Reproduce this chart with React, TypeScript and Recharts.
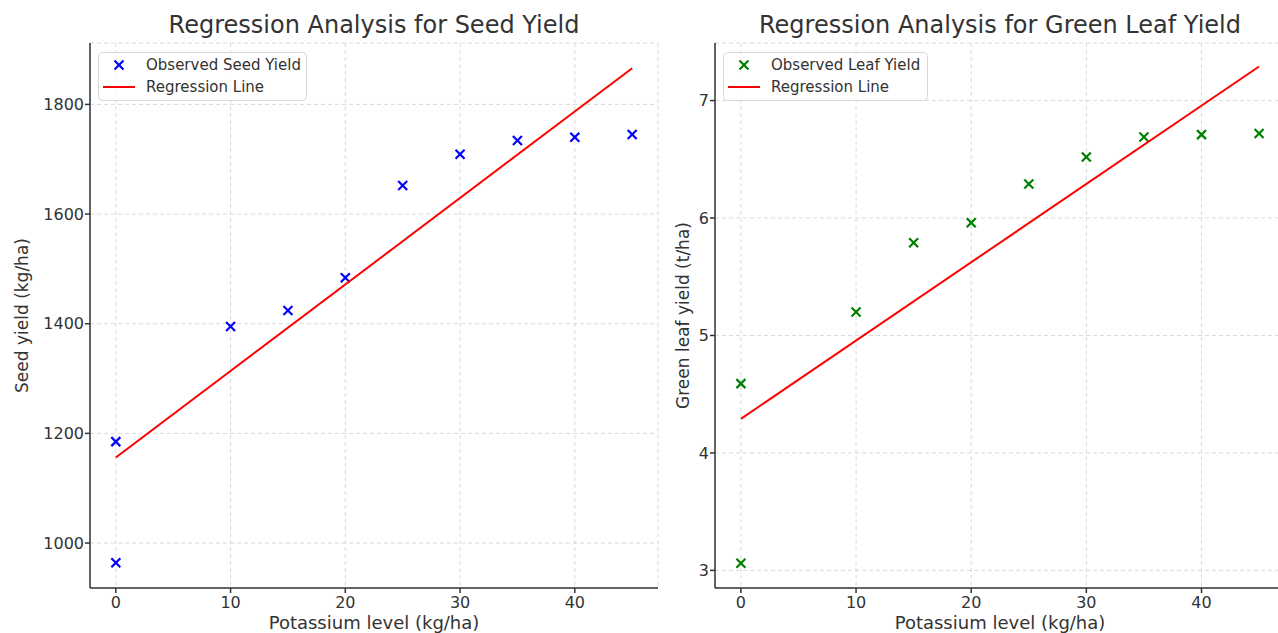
import { ScatterChart, Scatter, XAxis, YAxis, CartesianGrid } from "recharts";

// potassium levels (kg/ha), two control plots at 0
const potassium = [0, 0, 10, 15, 20, 25, 30, 35, 40, 45];
const seedYield = [964, 1185, 1395, 1424, 1484, 1652, 1709, 1734, 1740, 1745];
const leafYield = [3.06, 4.59, 5.2, 5.79, 5.96, 6.29, 6.52, 6.69, 6.71, 6.72];

// regression line end points
const fitX = [0, 45];
const seedFit = [1156, 1866];
const leafFit = [4.29, 7.29];

const xTicks = [0, 10, 20, 30, 40];
const seedTicks = [1000, 1200, 1400, 1600, 1800];
const leafTicks = [3, 4, 5, 6, 7];

const FONT = "'DejaVu Sans', sans-serif";
const TEXT = "#333333";

const toPoints = (xs: number[], ys: number[]) => xs.map((x, i) => ({ x, y: ys[i] }));

const Cross = (color: string) => (props: any) => {
  const { cx, cy } = props;
  const s = 4.5;
  return (
    <g stroke={color} strokeWidth={2.2}>
      <line x1={cx - s} y1={cy - s} x2={cx + s} y2={cy + s} />
      <line x1={cx - s} y1={cy + s} x2={cx + s} y2={cy - s} />
    </g>
  );
};

const Panel = ({
  title,
  yLabel,
  yLabelX,
  ys,
  fit,
  yDomain,
  yTicks,
  color,
  obsLabel,
  width,
  legendWidth,
}: any) => {
  const plotW = width - 92;
  return (
    <div style={{ position: "relative", width, height: 633 }}>
      <div
        style={{
          position: "absolute",
          left: 90,
          top: 13,
          width: plotW,
          textAlign: "center",
          fontSize: 24,
          lineHeight: "24px",
          color: TEXT,
          fontFamily: FONT,
          whiteSpace: "nowrap",
        }}
      >
        {title}
      </div>
      <ScatterChart width={width} height={633} margin={{ top: 43, right: 2, bottom: 0, left: 0 }}>
        <CartesianGrid stroke="#d0d0d0" strokeDasharray="4 3" strokeWidth={0.8} />
        <XAxis
          type="number"
          dataKey="x"
          domain={[-2.25, 47.25]}
          ticks={xTicks}
          allowDataOverflow
          height={45}
          tickSize={5}
          tickMargin={4}
          stroke={TEXT}
          strokeWidth={1.5}
          tick={{ fill: TEXT, fontSize: 16, fontFamily: FONT }}
          label={{
            content: (p: any) => {
              const vb = p.viewBox;
              return (
                <text
                  x={vb.x + vb.width / 2}
                  y={vb.y + 40.5}
                  textAnchor="middle"
                  fill={TEXT}
                  fontSize={18}
                  fontFamily={FONT}
                >
                  Potassium level (kg/ha)
                </text>
              );
            },
          }}
        />
        <YAxis
          type="number"
          dataKey="y"
          domain={yDomain}
          ticks={yTicks}
          allowDataOverflow
          width={90}
          tickSize={5}
          tickMargin={1}
          stroke={TEXT}
          strokeWidth={1.5}
          tick={{ fill: TEXT, fontSize: 16, fontFamily: FONT }}
          label={{
            content: (p: any) => {
              const vb = p.viewBox;
              const cy = vb.y + vb.height / 2;
              return (
                <text
                  x={yLabelX}
                  y={cy}
                  transform={`rotate(-90 ${yLabelX} ${cy})`}
                  textAnchor="middle"
                  dominantBaseline="central"
                  fill={TEXT}
                  fontSize={17}
                  fontFamily={FONT}
                >
                  {yLabel}
                </text>
              );
            },
          }}
        />
        <Scatter
          data={toPoints(potassium, ys)}
          shape={Cross(color)}
          isAnimationActive={false}
        />
        <Scatter
          data={toPoints(fitX, fit)}
          line={{ stroke: "#ff0000", strokeWidth: 2 }}
          shape={() => <g />}
          isAnimationActive={false}
        />
      </ScatterChart>
      <svg
        width={legendWidth}
        height={49}
        style={{ position: "absolute", left: 98, top: 52 }}
        fontFamily={FONT}
      >
        <rect
          x={0.5}
          y={0.5}
          width={legendWidth - 1}
          height={48}
          rx={4}
          fill="rgba(255,255,255,0.8)"
          stroke="#d9d9d9"
        />
        {Cross(color)({ cx: 21, cy: 13 })}
        <text x={48} y={13} dominantBaseline="central" fontSize={15} fill={TEXT}>
          {obsLabel}
        </text>
        <line x1={5} y1={35} x2={37} y2={35} stroke="#ff0000" strokeWidth={2} />
        <text x={48} y={35} dominantBaseline="central" fontSize={15} fill={TEXT}>
          Regression Line
        </text>
      </svg>
    </div>
  );
};

export default function App() {
  return (
    <div
      style={{
        position: "absolute",
        left: 0,
        top: 0,
        width: 1278,
        height: 633,
        overflow: "hidden",
        background: "#fff",
      }}
    >
      <div style={{ position: "absolute", left: 0, top: 0 }}>
        <Panel
          title="Regression Analysis for Seed Yield"
          yLabel="Seed yield (kg/ha)"
          yLabelX={22}
          ys={seedYield}
          fit={seedFit}
          yDomain={[918, 1912]}
          yTicks={seedTicks}
          color="#0000ff"
          obsLabel="Observed Seed Yield"
          width={660}
          legendWidth={209}
        />
      </div>
      <div style={{ position: "absolute", left: 625, top: 0 }}>
        <Panel
          title="Regression Analysis for Green Leaf Yield"
          yLabel="Green leaf yield (t/ha)"
          yLabelX={58}
          ys={leafYield}
          fit={leafFit}
          yDomain={[2.85, 7.49]}
          yTicks={leafTicks}
          color="#008000"
          obsLabel="Observed Leaf Yield"
          width={662}
          legendWidth={205}
        />
      </div>
    </div>
  );
}
